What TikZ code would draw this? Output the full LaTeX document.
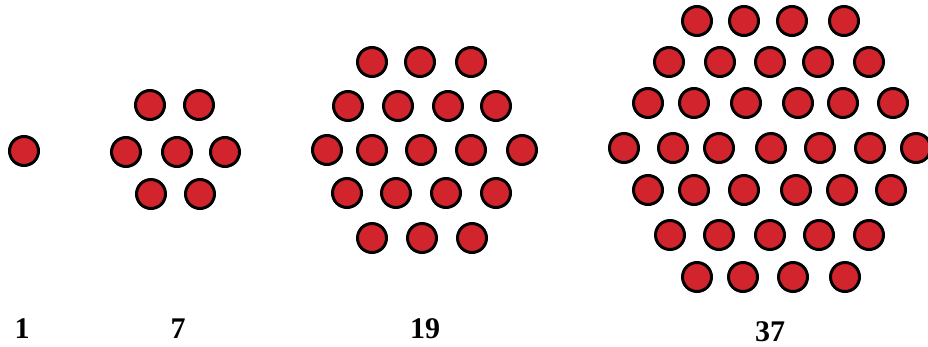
\documentclass[tikz,border=0pt]{standalone}
\usepackage{fontspec}
\setmainfont{Liberation Serif}
\usetikzlibrary{positioning}
\definecolor{dotRed}{RGB}{210,36,44}
\tikzset{
  dotnode/.style={
    circle, draw=black, line width=3pt, fill=dotRed,
    minimum size=29pt, inner sep=0pt},
  countlabel/.style={
    anchor=base, inner sep=0pt,
    font=\fontsize{30}{30}\selectfont\bfseries}
}

\begin{document}
\begin{tikzpicture}[x=1pt, y=-1pt]
  \useasboundingbox (0,0) rectangle (928,346);

  % 1
  \node[dotnode] (h1) at (24,151) {};

  % 7
  \foreach \yy/\xs [count=\r] in {105/{150,199}, 152/{126,177,225}, 194/{151,200}}
    \foreach \xx [count=\c] in \xs
      \node[dotnode] (h7-\r-\c) at (\xx,\yy) {};

  % 19
  \foreach \yy/\xs [count=\r] in {62/{372,420,471}, 106/{348,398,448,496},
      150/{327,372,421,471,522}, 193/{347,396,446,496}, 238/{372,422,472}}
    \foreach \xx [count=\c] in \xs
      \node[dotnode] (h19-\r-\c) at (\xx,\yy) {};

  % 37
  \foreach \yy/\xs [count=\r] in {21/{697,744,792,844}, 62/{669,720,770,818,869},
      103/{648,694,746,798,843,893}, 148/{624,673,719,771,820,870,916},
      190/{648,694,744,796,842,891}, 235/{670,719,770,819,869},
      277/{697,743,793,845}}
    \foreach \xx [count=\c] in \xs
      \node[dotnode] (h37-\r-\c) at (\xx,\yy) {};

  % counts
  \node[countlabel] (lbl1)  at (22,338)  {1};
  \node[countlabel] (lbl7)  at (178,338) {7};
  \node[countlabel] (lbl19) at (425,338) {19};
  \node[countlabel] (lbl37) at (770,341) {37};
\end{tikzpicture}
\end{document}
